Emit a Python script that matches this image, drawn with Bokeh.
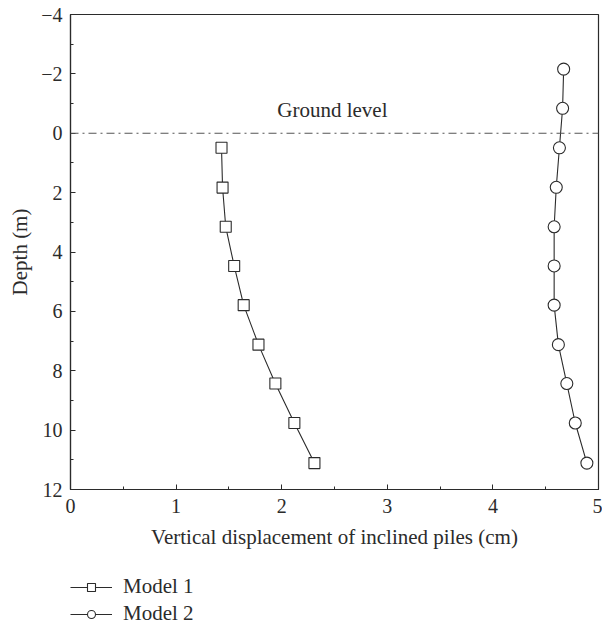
from bokeh.plotting import figure
from bokeh.layouts import column
from bokeh.models import (Range1d, FixedTicker, CustomJSTickFormatter, Span,
                          Legend, LegendItem)
from bokeh.core.properties import value
from bokeh.embed import file_html
from bokeh.resources import INLINE

# ---- data ----
model1_disp = [1.43, 1.44, 1.47, 1.55, 1.64, 1.78, 1.94, 2.12, 2.31]
model1_depth = [0.49, 1.83, 3.15, 4.47, 5.79, 7.12, 8.43, 9.76, 11.11]
model2_disp = [4.67, 4.66, 4.63, 4.60, 4.58, 4.58, 4.58, 4.62, 4.70, 4.78, 4.89]
model2_depth = [-2.16, -0.84, 0.49, 1.82, 3.15, 4.47, 5.79, 7.12, 8.43, 9.76, 11.11]
series_names = ["Model 1", "Model 2"]
series_markers = ["square", "circle"]
x_ticks = [0, 1, 2, 3, 4, 5]
y_ticks = [-4, -2, 0, 2, 4, 6, 8, 10, 12]
ground_level = 0
ground_label = "Ground level"
ground_label_pos = (2.48, -0.8)

FONT = "Liberation Serif"
INK = "#2b2b2b"
LABEL_PX = "21px"
TICK_PX = "20px"

p = figure(width=602, height=560, output_backend="svg", toolbar_location=None,
           x_range=Range1d(0, 5), y_range=Range1d(12, -4),
           min_border_left=70, min_border_right=4, min_border_top=14,
           min_border_bottom=71)
p.background_fill_color = None
p.border_fill_color = "white"
p.grid.visible = False
p.outline_line_color = INK
p.outline_line_width = 1.2

# axes
p.xaxis.ticker = FixedTicker(ticks=x_ticks,
                             minor_ticks=[t + 0.5 for t in x_ticks[:-1]])
p.yaxis.ticker = FixedTicker(ticks=y_ticks,
                             minor_ticks=[t + 1 for t in y_ticks[:-1]])
p.yaxis.formatter = CustomJSTickFormatter(
    code="return tick < 0 ? '\u2212' + Math.abs(tick) : String(tick);")
p.xaxis.axis_label = "Vertical displacement of inclined piles (cm)"
p.yaxis.axis_label = "Depth (m)"
for ax in (p.xaxis[0], p.yaxis[0]):
    ax.axis_line_color = INK
    ax.axis_line_width = 1.2
    ax.major_tick_line_color = INK
    ax.minor_tick_line_color = INK
    ax.major_tick_in = 5
    ax.major_tick_out = 0
    ax.minor_tick_in = 3
    ax.minor_tick_out = 0
    ax.major_label_text_font = FONT
    ax.major_label_text_font_size = TICK_PX
    ax.major_label_text_color = INK
    ax.axis_label_text_font = FONT
    ax.axis_label_text_font_size = LABEL_PX
    ax.axis_label_text_font_style = "normal"
    ax.axis_label_text_color = INK
p.xaxis.major_label_standoff = 9
p.xaxis.axis_label_standoff = 9
p.yaxis.major_label_standoff = 8
p.yaxis.axis_label_standoff = 6

# ground level line
p.add_layout(Span(location=ground_level, dimension="width", line_color="#555555",
                  line_width=1.1, line_dash="8 4 2 4"))
p.text(x=[ground_label_pos[0]], y=[ground_label_pos[1]], text=[ground_label],
       text_font=value(FONT), text_font_size=LABEL_PX, text_color=INK,
       text_align="center", text_baseline="middle")

# series
series = [(model1_disp, model1_depth, 11), (model2_disp, model2_depth, 12)]
for (xs, ys, sz), mk in zip(series, series_markers):
    p.line(xs, ys, line_color=INK, line_width=1.1)
    p.scatter(xs, ys, marker=mk, size=sz, fill_color="white",
              line_color=INK, line_width=1.1)

# legend strip below the chart (series re-drawn out of view, only for legend keys)
lg = figure(width=602, height=67, output_backend="svg", toolbar_location=None,
            x_axis_location=None, y_axis_location=None,
            x_range=Range1d(100, 101), y_range=Range1d(100, 101),
            min_border_left=70, min_border_right=0, min_border_top=14,
            min_border_bottom=0)
lg.grid.visible = False
lg.outline_line_color = None
lg.background_fill_color = None
items = []
for name, mk, (xs, ys, sz) in zip(series_names, series_markers, series):
    ln = lg.line(xs, ys, line_color=INK, line_width=1.1)
    sc = lg.scatter(xs, ys, marker=mk, size=sz, fill_color="white",
                    line_color=INK, line_width=1.1)
    items.append(LegendItem(label=name, renderers=[ln, sc]))
legend = Legend(items=items, location="top_left", orientation="vertical")
legend.border_line_color = None
legend.background_fill_alpha = 0
legend.margin = 0
legend.padding = 0
legend.spacing = 2
legend.glyph_width = 42
legend.glyph_height = 20
legend.label_height = 20
legend.label_standoff = 11
legend.label_text_font = FONT
legend.label_text_font_size = LABEL_PX
legend.label_text_color = INK
lg.add_layout(legend, "center")

layout = column(p, lg, spacing=0)
open("out.html", "w").write(file_html(layout, INLINE))
